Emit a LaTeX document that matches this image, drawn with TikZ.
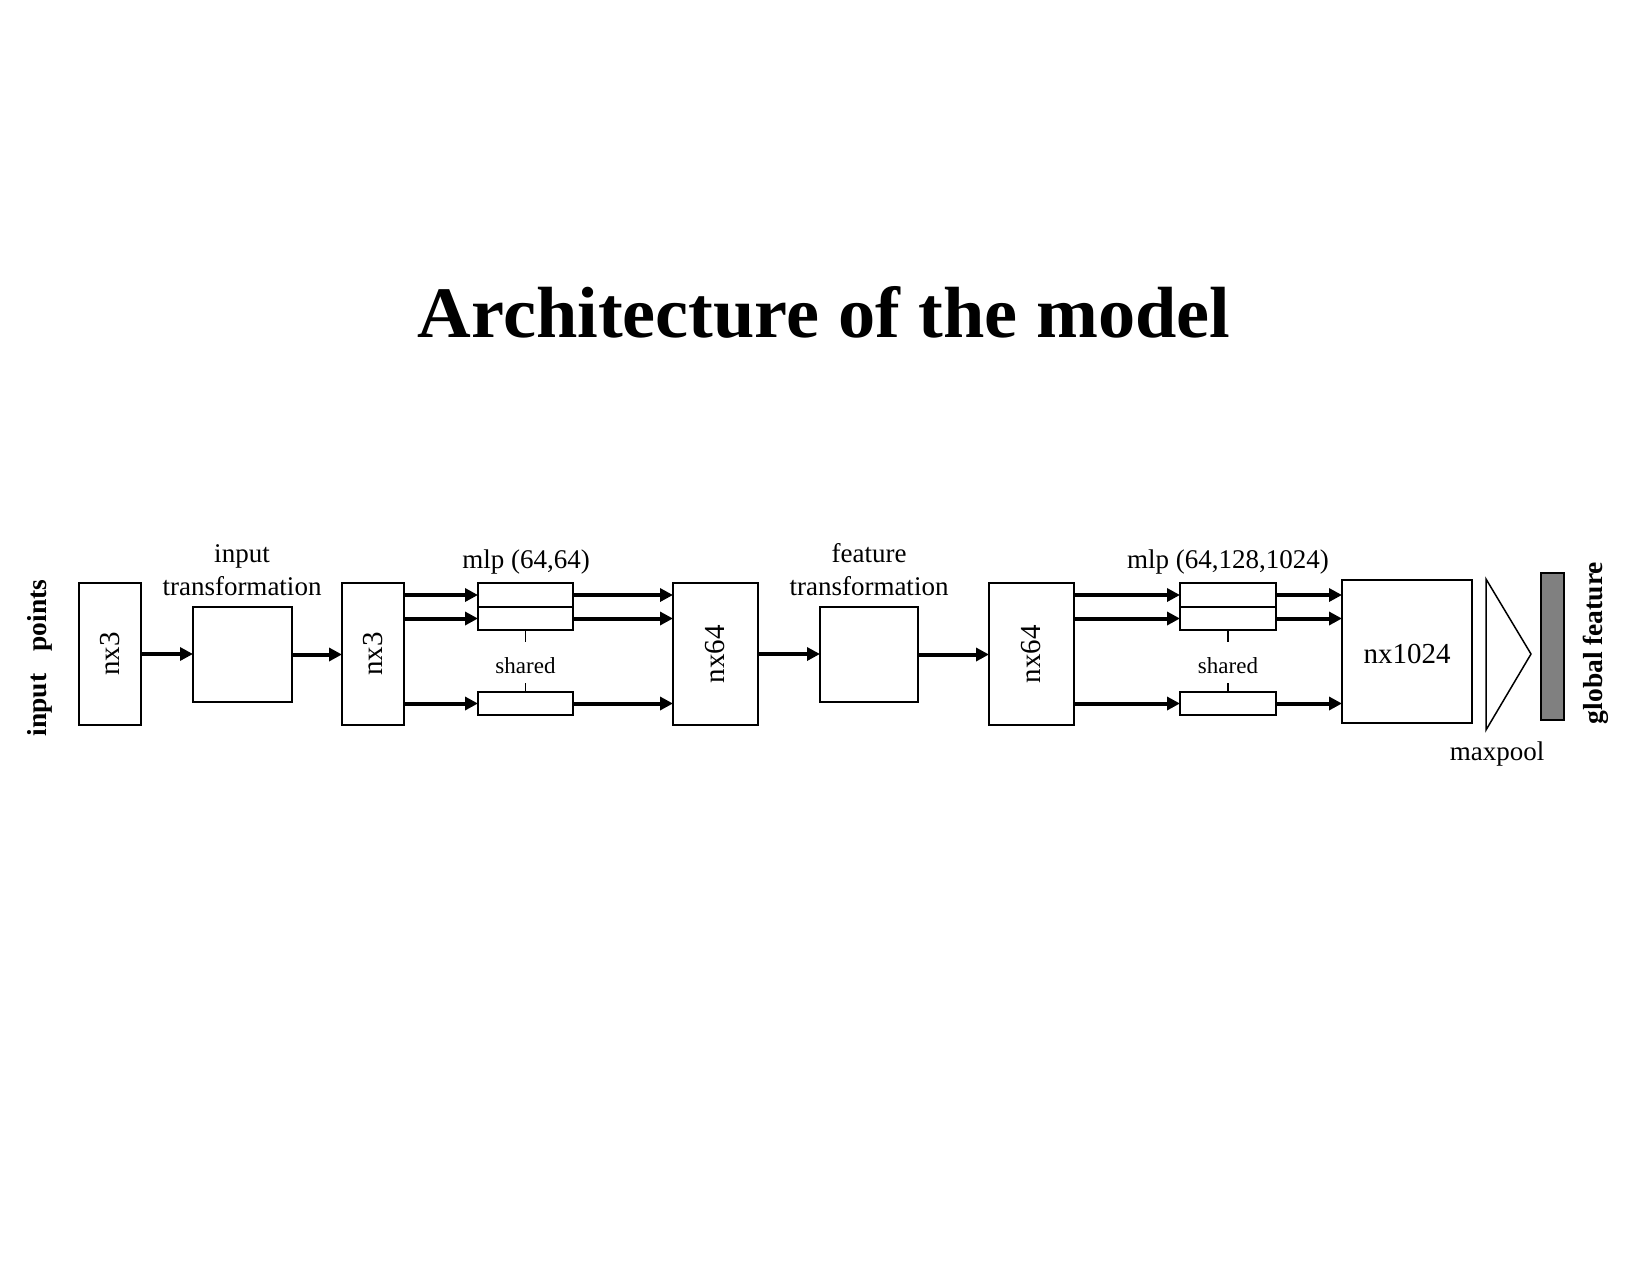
\documentclass[tikz,border=0pt]{standalone}
\usepackage{fontspec}
\usepackage{graphicx}
\setmainfont{Liberation Serif}
\usetikzlibrary{arrows.meta}
\begin{document}
\begin{tikzpicture}[x=0.5pt,y=-0.5pt,
  box/.style={draw, line width=0.9pt, inner sep=0pt, outer sep=0pt},
  nxf/.style={font=\fontsize{14.5}{16}\selectfont},
  arr/.style={line width=2pt, -{Triangle[length=6.5pt,width=6.5pt]}},
  tick/.style={line width=0.9pt},
  lbl/.style={font=\fontsize{13.5}{16}\selectfont, inner sep=0pt, anchor=base},
  shl/.style={font=\fontsize{11.5}{14}\selectfont, inner sep=0pt, anchor=base},
  side/.style={font=\fontsize{13.75}{16}\selectfont\bfseries, inner sep=0pt, rotate=90},
  ttl/.style={font=\fontsize{36.25}{40}\selectfont\bfseries, inner sep=0pt, anchor=base}
]
\fill[white] (0,0) rectangle (1650,1275);
\useasboundingbox (0,0) rectangle (1650,1275);

% title
\node[ttl] (title) at (824,337) {\scalebox{1.025}[1]{Architecture of the model}};

% main boxes
\node[box, nxf, minimum width=31pt, minimum height=71pt] (nx3a) at (110,654) {\rotatebox{90}{nx3}};
\node[box, minimum width=49.5pt, minimum height=47.5pt] (tin) at (242.5,654.5) {};
\node[box, nxf, minimum width=31pt, minimum height=71pt] (nx3b) at (373,654) {\rotatebox{90}{nx3}};
\node[box, minimum width=47.5pt, minimum height=12pt] (m1a) at (525.5,595) {};
\node[box, minimum width=47.5pt, minimum height=11.5pt] (m1b) at (525.5,618.5) {};
\node[box, minimum width=47.5pt, minimum height=11.5pt] (m1c) at (525.5,703.5) {};
\node[box, nxf, minimum width=42.5pt, minimum height=71pt] (nx64a) at (715.5,654) {\rotatebox{90}{nx64}};
\node[box, minimum width=49pt, minimum height=47.5pt] (tfe) at (869,654.5) {};
\node[box, nxf, minimum width=42.5pt, minimum height=71pt] (nx64b) at (1031.5,654) {\rotatebox{90}{nx64}};
\node[box, minimum width=48pt, minimum height=12pt] (m2a) at (1228,595) {};
\node[box, minimum width=48pt, minimum height=11.5pt] (m2b) at (1228,618.5) {};
\node[box, minimum width=48pt, minimum height=11.5pt] (m2c) at (1228,703.5) {};
\node[box, nxf, minimum width=65pt, minimum height=71.5pt] (nx1024) at (1407,651.5) {};
\node[nxf, inner sep=0pt, anchor=base] (nx1024t) at (1407,663) {nx1024};
\node[box, line width=0.75pt, fill={rgb,255:red,128;green,128;blue,128}, minimum width=11.5pt, minimum height=73.5pt] (gbar) at (1552.5,646.5) {};

% maxpool triangle
\draw[line width=0.75pt, line join=miter] (1486,579) -- (1531,654) -- (1486,730) -- cycle;

% labels
\node[lbl] (tinl1) at (242,562) {input};
\node[lbl] (tinl2) at (242,595) {transformation};
\node[lbl] (mlp1) at (526,568) {mlp (64,64)};
\node[shl] (sh1) at (525.5,673) {shared};
\node[lbl] (tfel1) at (869,562) {feature};
\node[lbl] (tfel2) at (869,595) {transformation};
\node[lbl] (mlp2) at (1228,568) {mlp (64,128,1024)};
\node[shl] (sh2) at (1228,673) {shared};
\node[lbl] (mp) at (1497,760) {maxpool};
\node[side] (ip) at (40,658) {input\hspace{11pt}points};
\node[side] (gf) at (1596,643) {global feature};

% shared ticks
\coordinate (s1t) at (525.5,642);
\coordinate (s1b) at (525.5,683);
\coordinate (s2t) at (1228,642);
\coordinate (s2b) at (1228,683);
\draw[tick] (m1b.south) -- (s1t);
\draw[tick] (s1b) -- (m1c.north);
\draw[tick] (m2b.south) -- (s2t);
\draw[tick] (s2b) -- (m2c.north);

% arrows
\draw[arr] (nx3a.east) -- (nx3a.east -| tin.west);
\draw[arr] (tin.east) -- (tin.east -| nx3b.west);
\draw[arr] (nx3b.east |- m1a) -- (m1a.west);
\draw[arr] (nx3b.east |- m1b) -- (m1b.west);
\draw[arr] (nx3b.east |- m1c) -- (m1c.west);
\draw[arr] (m1a.east) -- (m1a.east -| nx64a.west);
\draw[arr] (m1b.east) -- (m1b.east -| nx64a.west);
\draw[arr] (m1c.east) -- (m1c.east -| nx64a.west);
\draw[arr] (nx64a.east) -- (nx64a.east -| tfe.west);
\draw[arr] (tfe.east) -- (tfe.east -| nx64b.west);
\draw[arr] (nx64b.east |- m2a) -- (m2a.west);
\draw[arr] (nx64b.east |- m2b) -- (m2b.west);
\draw[arr] (nx64b.east |- m2c) -- (m2c.west);
\draw[arr] (m2a.east) -- (m2a.east -| nx1024.west);
\draw[arr] (m2b.east) -- (m2b.east -| nx1024.west);
\draw[arr] (m2c.east) -- (m2c.east -| nx1024.west);
\end{tikzpicture}
\end{document}
